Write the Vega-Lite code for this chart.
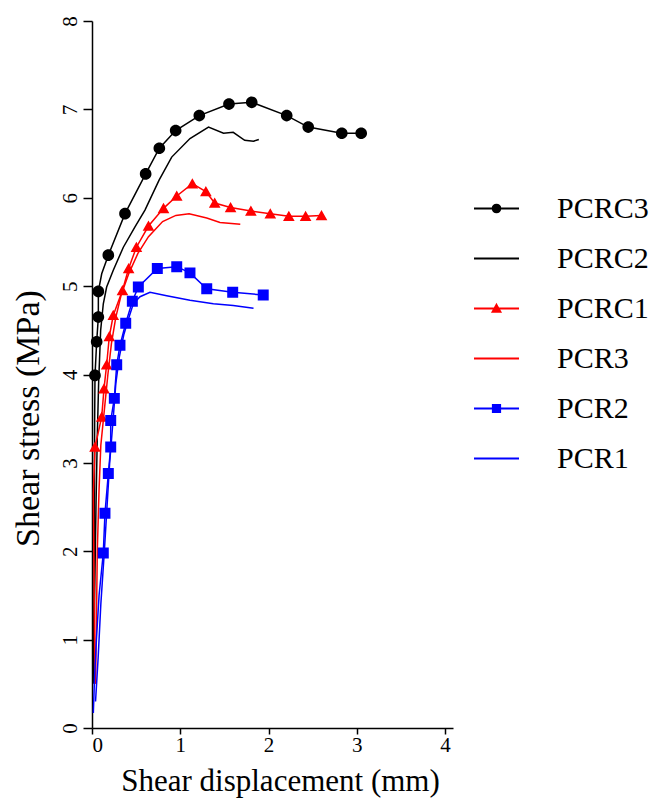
{
  "$schema": "https://vega.github.io/schema/vega-lite/v6.json",
  "width": 361,
  "height": 707,
  "autosize": {"type": "none"},
  "padding": {"left": 92, "top": 21, "right": 199, "bottom": 73},
  "config": {
    "view": {"stroke": null},
    "font": "Liberation Serif",
    "axis": {
      "grid": false,
      "domainColor": "#000000",
      "tickColor": "#000000",
      "labelColor": "#000000",
      "titleColor": "#000000",
      "labelFont": "Liberation Serif",
      "titleFont": "Liberation Serif",
      "titleFontWeight": "normal",
      "labelFontSize": 21,
      "titleFontSize": 31,
      "domainWidth": 1.5,
      "tickWidth": 1.5
    }
  },
  "data": {
    "values": [
      {"s": "PCRC3", "i": 0, "d": 0.015, "t": 0.5, "m": 0},
      {"s": "PCRC3", "i": 1, "d": 0.02, "t": 1.2, "m": 0},
      {"s": "PCRC3", "i": 2, "d": 0.025, "t": 2.0, "m": 0},
      {"s": "PCRC3", "i": 3, "d": 0.028, "t": 2.8, "m": 0},
      {"s": "PCRC3", "i": 4, "d": 0.03, "t": 3.5, "m": 0},
      {"s": "PCRC3", "i": 5, "d": 0.034, "t": 3.99, "m": 1},
      {"s": "PCRC3", "i": 6, "d": 0.053, "t": 4.37, "m": 1},
      {"s": "PCRC3", "i": 7, "d": 0.072, "t": 4.65, "m": 1},
      {"s": "PCRC3", "i": 8, "d": 0.072, "t": 4.94, "m": 1},
      {"s": "PCRC3", "i": 9, "d": 0.11, "t": 5.14, "m": 0},
      {"s": "PCRC3", "i": 10, "d": 0.185, "t": 5.35, "m": 1},
      {"s": "PCRC3", "i": 11, "d": 0.374, "t": 5.82, "m": 1},
      {"s": "PCRC3", "i": 12, "d": 0.608, "t": 6.27, "m": 1},
      {"s": "PCRC3", "i": 13, "d": 0.763, "t": 6.56, "m": 1},
      {"s": "PCRC3", "i": 14, "d": 0.948, "t": 6.76, "m": 1},
      {"s": "PCRC3", "i": 15, "d": 1.216, "t": 6.93, "m": 1},
      {"s": "PCRC3", "i": 16, "d": 1.552, "t": 7.06, "m": 1},
      {"s": "PCRC3", "i": 17, "d": 1.81, "t": 7.08, "m": 1},
      {"s": "PCRC3", "i": 18, "d": 2.206, "t": 6.93, "m": 1},
      {"s": "PCRC3", "i": 19, "d": 2.45, "t": 6.8, "m": 1},
      {"s": "PCRC3", "i": 20, "d": 2.83, "t": 6.73, "m": 1},
      {"s": "PCRC3", "i": 21, "d": 3.05, "t": 6.73, "m": 1},

      {"s": "PCRC2", "i": 0, "d": 0.02, "t": 0.6, "m": 0},
      {"s": "PCRC2", "i": 1, "d": 0.03, "t": 1.5, "m": 0},
      {"s": "PCRC2", "i": 2, "d": 0.045, "t": 2.5, "m": 0},
      {"s": "PCRC2", "i": 3, "d": 0.06, "t": 3.3, "m": 0},
      {"s": "PCRC2", "i": 4, "d": 0.075, "t": 3.9, "m": 0},
      {"s": "PCRC2", "i": 5, "d": 0.098, "t": 4.5, "m": 0},
      {"s": "PCRC2", "i": 6, "d": 0.128, "t": 4.8, "m": 0},
      {"s": "PCRC2", "i": 7, "d": 0.166, "t": 4.99, "m": 0},
      {"s": "PCRC2", "i": 8, "d": 0.241, "t": 5.18, "m": 0},
      {"s": "PCRC2", "i": 9, "d": 0.355, "t": 5.44, "m": 0},
      {"s": "PCRC2", "i": 10, "d": 0.487, "t": 5.67, "m": 0},
      {"s": "PCRC2", "i": 11, "d": 0.6, "t": 5.86, "m": 0},
      {"s": "PCRC2", "i": 12, "d": 0.76, "t": 6.2, "m": 0},
      {"s": "PCRC2", "i": 13, "d": 0.903, "t": 6.46, "m": 0},
      {"s": "PCRC2", "i": 14, "d": 1.11, "t": 6.67, "m": 0},
      {"s": "PCRC2", "i": 15, "d": 1.32, "t": 6.8, "m": 0},
      {"s": "PCRC2", "i": 16, "d": 1.49, "t": 6.73, "m": 0},
      {"s": "PCRC2", "i": 17, "d": 1.6, "t": 6.74, "m": 0},
      {"s": "PCRC2", "i": 18, "d": 1.73, "t": 6.65, "m": 0},
      {"s": "PCRC2", "i": 19, "d": 1.83, "t": 6.64, "m": 0},
      {"s": "PCRC2", "i": 20, "d": 1.89, "t": 6.66, "m": 0},

      {"s": "PCRC1", "i": 0, "d": 0.034, "t": 0.5, "m": 0},
      {"s": "PCRC1", "i": 1, "d": 0.025, "t": 1.5, "m": 0},
      {"s": "PCRC1", "i": 2, "d": 0.015, "t": 2.65, "m": 0},
      {"s": "PCRC1", "i": 3, "d": 0.034, "t": 3.18, "m": 1},
      {"s": "PCRC1", "i": 4, "d": 0.11, "t": 3.52, "m": 1},
      {"s": "PCRC1", "i": 5, "d": 0.136, "t": 3.84, "m": 1},
      {"s": "PCRC1", "i": 6, "d": 0.166, "t": 4.11, "m": 1},
      {"s": "PCRC1", "i": 7, "d": 0.196, "t": 4.43, "m": 1},
      {"s": "PCRC1", "i": 8, "d": 0.241, "t": 4.67, "m": 1},
      {"s": "PCRC1", "i": 9, "d": 0.345, "t": 4.95, "m": 1},
      {"s": "PCRC1", "i": 10, "d": 0.415, "t": 5.2, "m": 1},
      {"s": "PCRC1", "i": 11, "d": 0.503, "t": 5.44, "m": 1},
      {"s": "PCRC1", "i": 12, "d": 0.64, "t": 5.68, "m": 1},
      {"s": "PCRC1", "i": 13, "d": 0.81, "t": 5.88, "m": 1},
      {"s": "PCRC1", "i": 14, "d": 0.96, "t": 6.02, "m": 1},
      {"s": "PCRC1", "i": 15, "d": 1.137, "t": 6.16, "m": 1},
      {"s": "PCRC1", "i": 16, "d": 1.29, "t": 6.07, "m": 1},
      {"s": "PCRC1", "i": 17, "d": 1.39, "t": 5.94, "m": 1},
      {"s": "PCRC1", "i": 18, "d": 1.57, "t": 5.89, "m": 1},
      {"s": "PCRC1", "i": 19, "d": 1.8, "t": 5.85, "m": 1},
      {"s": "PCRC1", "i": 20, "d": 2.02, "t": 5.82, "m": 1},
      {"s": "PCRC1", "i": 21, "d": 2.23, "t": 5.79, "m": 1},
      {"s": "PCRC1", "i": 22, "d": 2.42, "t": 5.79, "m": 1},
      {"s": "PCRC1", "i": 23, "d": 2.6, "t": 5.8, "m": 1},

      {"s": "PCR3", "i": 0, "d": 0.04, "t": 0.5, "m": 0},
      {"s": "PCR3", "i": 1, "d": 0.05, "t": 1.2, "m": 0},
      {"s": "PCR3", "i": 2, "d": 0.06, "t": 2.0, "m": 0},
      {"s": "PCR3", "i": 3, "d": 0.08, "t": 2.7, "m": 0},
      {"s": "PCR3", "i": 4, "d": 0.1, "t": 3.2, "m": 0},
      {"s": "PCR3", "i": 5, "d": 0.14, "t": 3.6, "m": 0},
      {"s": "PCR3", "i": 6, "d": 0.18, "t": 4.0, "m": 0},
      {"s": "PCR3", "i": 7, "d": 0.22, "t": 4.35, "m": 0},
      {"s": "PCR3", "i": 8, "d": 0.27, "t": 4.65, "m": 0},
      {"s": "PCR3", "i": 9, "d": 0.33, "t": 4.9, "m": 0},
      {"s": "PCR3", "i": 10, "d": 0.42, "t": 5.15, "m": 0},
      {"s": "PCR3", "i": 11, "d": 0.52, "t": 5.37, "m": 0},
      {"s": "PCR3", "i": 12, "d": 0.64, "t": 5.56, "m": 0},
      {"s": "PCR3", "i": 13, "d": 0.8, "t": 5.73, "m": 0},
      {"s": "PCR3", "i": 14, "d": 0.95, "t": 5.8, "m": 0},
      {"s": "PCR3", "i": 15, "d": 1.1, "t": 5.82, "m": 0},
      {"s": "PCR3", "i": 16, "d": 1.3, "t": 5.77, "m": 0},
      {"s": "PCR3", "i": 17, "d": 1.45, "t": 5.72, "m": 0},
      {"s": "PCR3", "i": 18, "d": 1.68, "t": 5.7, "m": 0},

      {"s": "PCR2", "i": 0, "d": 0.015, "t": 0.17, "m": 0},
      {"s": "PCR2", "i": 1, "d": 0.03, "t": 0.6, "m": 0},
      {"s": "PCR2", "i": 2, "d": 0.05, "t": 1.0, "m": 0},
      {"s": "PCR2", "i": 3, "d": 0.08, "t": 1.5, "m": 0},
      {"s": "PCR2", "i": 4, "d": 0.128, "t": 1.98, "m": 1},
      {"s": "PCR2", "i": 5, "d": 0.147, "t": 2.43, "m": 1},
      {"s": "PCR2", "i": 6, "d": 0.185, "t": 2.88, "m": 1},
      {"s": "PCR2", "i": 7, "d": 0.212, "t": 3.18, "m": 1},
      {"s": "PCR2", "i": 8, "d": 0.212, "t": 3.48, "m": 1},
      {"s": "PCR2", "i": 9, "d": 0.253, "t": 3.73, "m": 1},
      {"s": "PCR2", "i": 10, "d": 0.28, "t": 4.11, "m": 1},
      {"s": "PCR2", "i": 11, "d": 0.317, "t": 4.33, "m": 1},
      {"s": "PCR2", "i": 12, "d": 0.382, "t": 4.58, "m": 1},
      {"s": "PCR2", "i": 13, "d": 0.457, "t": 4.83, "m": 1},
      {"s": "PCR2", "i": 14, "d": 0.525, "t": 4.99, "m": 1},
      {"s": "PCR2", "i": 15, "d": 0.74, "t": 5.2, "m": 1},
      {"s": "PCR2", "i": 16, "d": 0.96, "t": 5.22, "m": 1},
      {"s": "PCR2", "i": 17, "d": 1.11, "t": 5.15, "m": 1},
      {"s": "PCR2", "i": 18, "d": 1.3, "t": 4.97, "m": 1},
      {"s": "PCR2", "i": 19, "d": 1.594, "t": 4.93, "m": 1},
      {"s": "PCR2", "i": 20, "d": 1.94, "t": 4.9, "m": 1},

      {"s": "PCR1", "i": 0, "d": 0.04, "t": 0.3, "m": 0},
      {"s": "PCR1", "i": 1, "d": 0.07, "t": 0.8, "m": 0},
      {"s": "PCR1", "i": 2, "d": 0.1, "t": 1.4, "m": 0},
      {"s": "PCR1", "i": 3, "d": 0.14, "t": 2.0, "m": 0},
      {"s": "PCR1", "i": 4, "d": 0.17, "t": 2.5, "m": 0},
      {"s": "PCR1", "i": 5, "d": 0.2, "t": 3.0, "m": 0},
      {"s": "PCR1", "i": 6, "d": 0.24, "t": 3.5, "m": 0},
      {"s": "PCR1", "i": 7, "d": 0.27, "t": 3.9, "m": 0},
      {"s": "PCR1", "i": 8, "d": 0.31, "t": 4.2, "m": 0},
      {"s": "PCR1", "i": 9, "d": 0.36, "t": 4.45, "m": 0},
      {"s": "PCR1", "i": 10, "d": 0.42, "t": 4.65, "m": 0},
      {"s": "PCR1", "i": 11, "d": 0.468, "t": 4.8, "m": 0},
      {"s": "PCR1", "i": 12, "d": 0.544, "t": 4.88, "m": 0},
      {"s": "PCR1", "i": 13, "d": 0.657, "t": 4.93, "m": 0},
      {"s": "PCR1", "i": 14, "d": 0.846, "t": 4.89, "m": 0},
      {"s": "PCR1", "i": 15, "d": 1.11, "t": 4.84, "m": 0},
      {"s": "PCR1", "i": 16, "d": 1.375, "t": 4.8, "m": 0},
      {"s": "PCR1", "i": 17, "d": 1.6, "t": 4.78, "m": 0},
      {"s": "PCR1", "i": 18, "d": 1.83, "t": 4.75, "m": 0}
    ]
  },
  "encoding": {
    "x": {
      "field": "d",
      "type": "quantitative",
      "scale": {"domain": [0, 4.09], "nice": false, "zero": true},
      "axis": {
        "title": "Shear displacement (mm)",
        "values": [0, 1, 2, 3, 4],
        "tickSize": 6,
        "labelPadding": 0,
        "titlePadding": 11,
        "titleX": 188
      }
    },
    "y": {
      "field": "t",
      "type": "quantitative",
      "scale": {"domain": [0, 8], "nice": false, "zero": true},
      "axis": {
        "title": "Shear stress (MPa)",
        "values": [0, 1, 2, 3, 4, 5, 6, 7, 8],
        "tickSize": 9,
        "labelAngle": -90,
        "labelAlign": "center",
        "labelBaseline": "alphabetic",
        "labelPadding": 7,
        "titlePadding": 14,
        "titleFontSize": 34,
        "titleY": 397
      }
    }
  },
  "layer": [
    {
      "transform": [{"filter": "datum.s == 'PCRC3' || datum.s == 'PCRC2'"}],
      "mark": {"type": "line", "strokeWidth": 1.5, "color": "#000000"},
      "encoding": {
        "detail": {"field": "s", "type": "nominal"},
        "order": {"field": "i", "type": "quantitative"}
      }
    },
    {
      "transform": [{"filter": "datum.s == 'PCRC1' || datum.s == 'PCR3'"}],
      "mark": {"type": "line", "strokeWidth": 1.5, "color": "#ff0000"},
      "encoding": {
        "detail": {"field": "s", "type": "nominal"},
        "order": {"field": "i", "type": "quantitative"}
      }
    },
    {
      "transform": [{"filter": "datum.s == 'PCR2' || datum.s == 'PCR1'"}],
      "mark": {"type": "line", "strokeWidth": 1.5, "color": "#0000ff"},
      "encoding": {
        "detail": {"field": "s", "type": "nominal"},
        "order": {"field": "i", "type": "quantitative"}
      }
    },
    {
      "transform": [{"filter": "datum.m == 1"}],
      "mark": {"type": "point", "filled": true, "opacity": 1, "size": 4700},
      "encoding": {
        "color": {
          "field": "s",
          "type": "nominal",
          "scale": {
            "domain": ["PCRC3", "PCRC2", "PCRC1", "PCR3", "PCR2", "PCR1"],
            "range": ["#000000", "#000000", "#ff0000", "#ff0000", "#0000ff", "#0000ff"]
          },
          "legend": {
            "title": null,
            "orient": "none",
            "legendX": 381,
            "legendY": 164,
            "padding": 0,
            "symbolSize": 2025,
            "symbolStrokeWidth": 2,
            "labelFont": "Liberation Serif",
            "labelFontSize": 30,
            "labelColor": "#000000",
            "labelOffset": 37,
            "rowPadding": 11
          }
        },
        "stroke": {
          "field": "s",
          "type": "nominal",
          "scale": {
            "domain": ["PCRC3", "PCRC2", "PCRC1", "PCR3", "PCR2", "PCR1"],
            "range": ["#000000", "#000000", "#ff0000", "#ff0000", "#0000ff", "#0000ff"]
          }
        },
        "strokeWidth": {"value": 0},
        "shape": {
          "field": "s",
          "type": "nominal",
          "scale": {
            "domain": ["PCRC3", "PCRC2", "PCRC1", "PCR3", "PCR2", "PCR1"],
            "range": [
              "M-1,0H1M0.17,0A0.17,0.17,0,1,1,-0.17,0A0.17,0.17,0,1,1,0.17,0",
              "M-1,0H1",
              "M-1,0H1M0,-0.16L0.17,0.14L-0.17,0.14Z",
              "M-1,0H1",
              "M-1,0H1M-0.16,-0.16H0.16V0.16H-0.16Z",
              "M-1,0H1"
            ]
          }
        }
      }
    }
  ]
}
